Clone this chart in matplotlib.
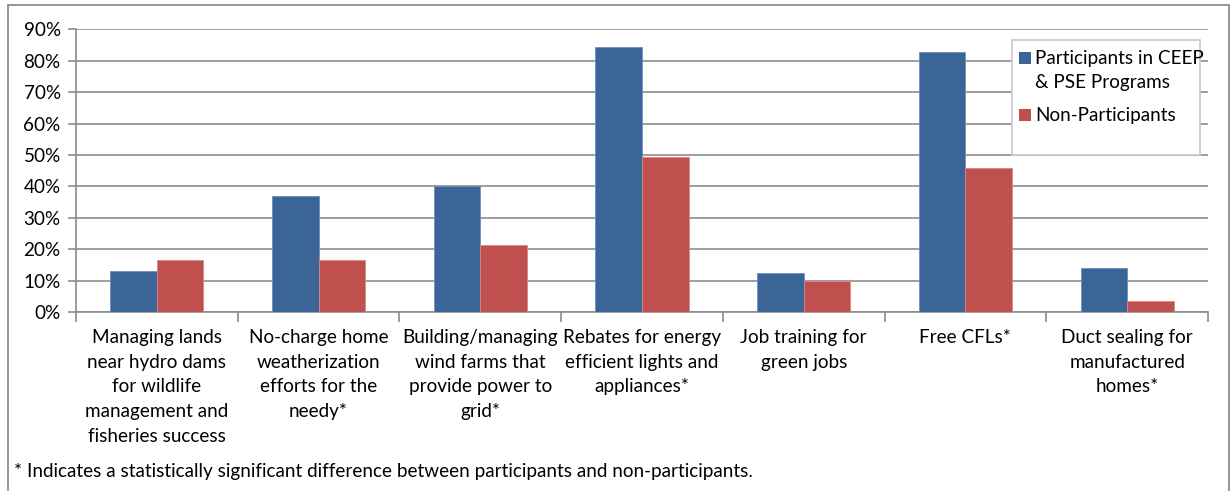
import matplotlib

matplotlib.use("Agg")
import matplotlib.pyplot as plt
import numpy as np
from matplotlib.patches import Rectangle

plt.rcParams["font.family"] = ["Lato", "DejaVu Sans"]

categories = [
    "Managing lands\nnear hydro dams\nfor wildlife\nmanagement and\nfisheries success",
    "No-charge home\nweatherization\nefforts for the\nneedy*",
    "Building/managing\nwind farms that\nprovide power to\ngrid*",
    "Rebates for energy\nefficient lights and\nappliances*",
    "Job training for\ngreen jobs",
    "Free CFLs*",
    "Duct sealing for\nmanufactured\nhomes*",
]
participants = [13.1, 37.0, 40.1, 84.5, 12.4, 82.8, 13.9]
non_participants = [16.5, 16.5, 21.3, 49.3, 9.9, 46.0, 3.4]
series_names = ["Participants in CEEP\n& PSE Programs", "Non-Participants"]
yticks = [0, 10, 20, 30, 40, 50, 60, 70, 80, 90]
footnote = "* Indicates a statistically significant difference between participants and non-participants."

BLUE = "#3B6597"
RED = "#C0504D"
GRID = "#8C8C8C"
FS = 13.6

W, H = 1231, 491
fig = plt.figure(figsize=(W / 100, H / 100), dpi=100)


def px(x0, y0, w, h):
    """Pixel box (top-left origin) -> figure-fraction rectangle args."""
    return (x0 / W, 1 - (y0 + h) / H), w / W, h / H


# outer chart frame
fig.patches.append(Rectangle((8 / W, -0.05), (1229 - 8) / W, 1 - 5.5 / H + 0.05,
                             transform=fig.transFigure, fill=False,
                             edgecolor="#8C8C8C", lw=1.3))

ax = fig.add_axes([76 / W, 1 - 312 / H, (1208 - 76) / W, (312 - 29.3) / H])

x = np.arange(len(categories))
bw = 0.288
ax.bar(x - bw / 2, participants, bw, color=BLUE, edgecolor="#6F8FBA", lw=0.6, zorder=3)
ax.bar(x + bw / 2, non_participants, bw, color=RED, edgecolor="#D98886", lw=0.6, zorder=3)

ax.set_xlim(-0.5, len(categories) - 0.5)
ax.set_ylim(0, 90)
ax.set_yticks(yticks)
ax.set_yticklabels([f"{v}%" for v in yticks])
ax.yaxis.grid(True, color=GRID, lw=1.2, zorder=0)
ax.set_axisbelow(True)

ax.set_xticks(x)
ax.set_xticklabels(categories, linespacing=1.56)
ax.set_xticks(np.arange(len(categories) + 1) - 0.5, minor=True)
ax.tick_params(axis="x", which="major", length=0, pad=12, labelsize=FS, colors="black")
ax.tick_params(axis="x", which="minor", length=7, width=1.2, color=GRID)
ax.tick_params(axis="y", length=6, width=1.2, color=GRID, labelsize=FS, pad=5)

for side in ("top", "right"):
    ax.spines[side].set_visible(False)
for side in ("left", "bottom"):
    ax.spines[side].set_color(GRID)
    ax.spines[side].set_linewidth(1.2)

# legend box, drawn by hand so the swatches sit on the first text line
xy, w, h = px(1012, 40, 188, 115)
fig.patches.append(Rectangle(xy, w, h, transform=fig.transFigure, facecolor="white",
                             edgecolor="#C8C8C8", lw=1.2, zorder=2))
for color, name, ytop in zip([BLUE, RED], series_names, [58, 115]):
    xy, w, h = px(1019, ytop - 6, 12, 12)
    fig.patches.append(Rectangle(xy, w, h, transform=fig.transFigure,
                                 facecolor=color, edgecolor="none", zorder=3))
    fig.text(1035 / W, 1 - (ytop - 8) / H, name, fontsize=FS, va="top", ha="left",
             linespacing=1.5, zorder=4)

fig.text(14 / W, 1 - 472 / H, footnote, fontsize=FS, va="center", ha="left")

fig.savefig("out.png", dpi=100)
